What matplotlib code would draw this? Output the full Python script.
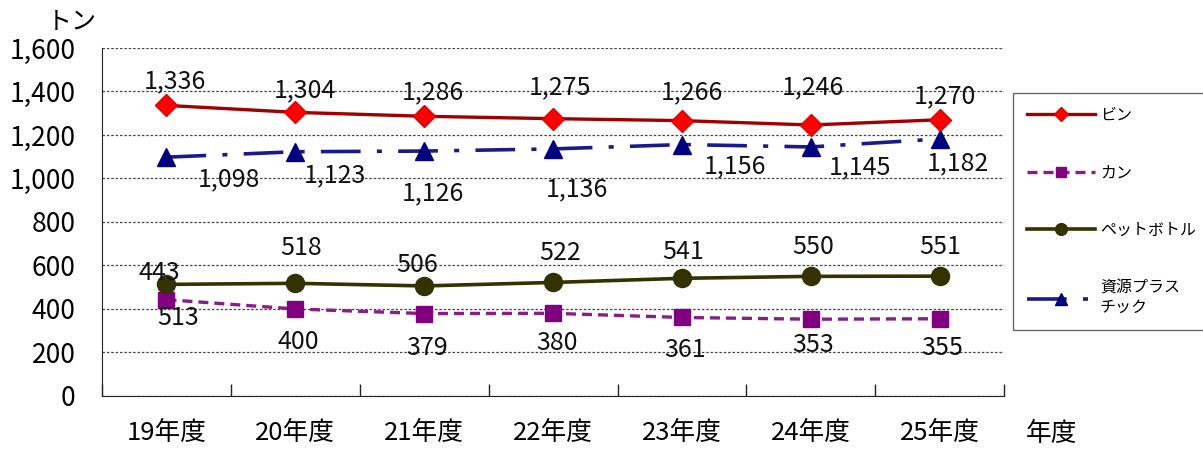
import matplotlib
matplotlib.use("Agg")
import matplotlib.pyplot as plt
from matplotlib.ticker import FuncFormatter, FixedLocator

plt.rcParams['font.family'] = ['Noto Sans CJK JP', 'DejaVu Sans']

# data
years = ["19年度", "20年度", "21年度", "22年度", "23年度", "24年度", "25年度"]
bin_vals = [1336, 1304, 1286, 1275, 1266, 1246, 1270]
can_vals = [443, 400, 379, 380, 361, 353, 355]
pet_vals = [513, 518, 506, 522, 541, 550, 551]
plastic_vals = [1098, 1123, 1126, 1136, 1156, 1145, 1182]
series_names = ["ビン", "カン", "ペットボトル", "資源プラス\nチック"]

# label offsets in pixels (dx, dy) -- placement copied from the original chart
bin_off = [(8, 24), (10, 22), (9, 24), (7, 31), (10, 28), (2, 38), (5, 23)]
can_off = [(-7, 27), (3, -33), (3, -34), (4, -30), (3, -33), (2, -26), (2, -29)]
pet_off = [(12, -34), (6, 35), (-7, 21), (7, 29), (1, 26), (2, 29), (0, 29)]
plastic_off = [(62, -22), (40, -24), (9, -42), (24, -40), (53, -22), (49, -20), (18, -24)]

fig = plt.figure(figsize=(12.03, 4.51), dpi=100)
ax = fig.add_axes([0.0848, 0.122, 0.75, 0.7716])

x = list(range(len(years)))
l1, = ax.plot(x, bin_vals, color='#a00000', lw=2.4, marker='D', ms=11,
              mfc='#ff0000', mec='#e00000', zorder=5)
l2, = ax.plot(x, can_vals, color='#8b1a8b', lw=2.4, ls=(0, (3, 1.8)), marker='s', ms=12,
              mfc='#800080', mec='#800080', zorder=4)
l3, = ax.plot(x, pet_vals, color='#333300', lw=2.6, marker='o', ms=13,
              mfc='#333300', mec='#333300', zorder=4)
l4, = ax.plot(x, plastic_vals, color='#1a1a8c', lw=2.6, ls=(0, (11, 4.5, 1.4, 4.5)), marker='^', ms=13,
              mfc='#000080', mec='#000080', zorder=4)

def fmt(v):
    return "{:,}".format(v)

for vals, offs in [(bin_vals, bin_off), (can_vals, can_off), (pet_vals, pet_off), (plastic_vals, plastic_off)]:
    for i, v in enumerate(vals):
        ax.annotate(fmt(v), (i, v), xytext=offs[i], textcoords='offset pixels',
                    ha='center', va='center', fontsize=18, color='#111111', zorder=6)

ax.set_xlim(-0.5, 6.5)
ax.set_ylim(0, 1600)
ax.set_yticks(range(0, 1601, 200))
ax.yaxis.set_major_formatter(FuncFormatter(lambda v, p: fmt(int(v))))
ax.tick_params(axis='y', length=0, pad=19, labelsize=19)
ax.set_xticks(x)
ax.set_xticklabels(years)
ax.tick_params(axis='x', which='major', length=0, pad=17, labelsize=18.5)
ax.xaxis.set_minor_locator(FixedLocator([i + 0.5 for i in range(-1, 7)]))
ax.tick_params(axis='x', which='minor', direction='in', length=9, width=1, color='#222222')

ax.grid(axis='y', ls=(0, (2, 1.5)), color='#444444', lw=0.9)
ax.set_axisbelow(True)
ax.spines['top'].set_visible(False)
ax.spines['right'].set_visible(False)
ax.spines['left'].set_color('#222222')
ax.spines['bottom'].set_color('#222222')

fig.text(0.0598, 0.952, "トン", fontsize=18, ha='center', va='center')
fig.text(0.874, 0.038, "年度", fontsize=18.5, ha='center', va='center')

leg = fig.legend([l1, l2, l3, l4], series_names, loc='upper left',
                 bbox_to_anchor=(0.842, 0.794), borderaxespad=0, fontsize=11.5,
                 handlelength=4.3, markerscale=0.65, labelspacing=2.55, borderpad=0.85,
                 handletextpad=0.3, fancybox=False, frameon=True, edgecolor='#333333')
leg.get_frame().set_linewidth(0.9)

fig.savefig("out.png", dpi=100)
